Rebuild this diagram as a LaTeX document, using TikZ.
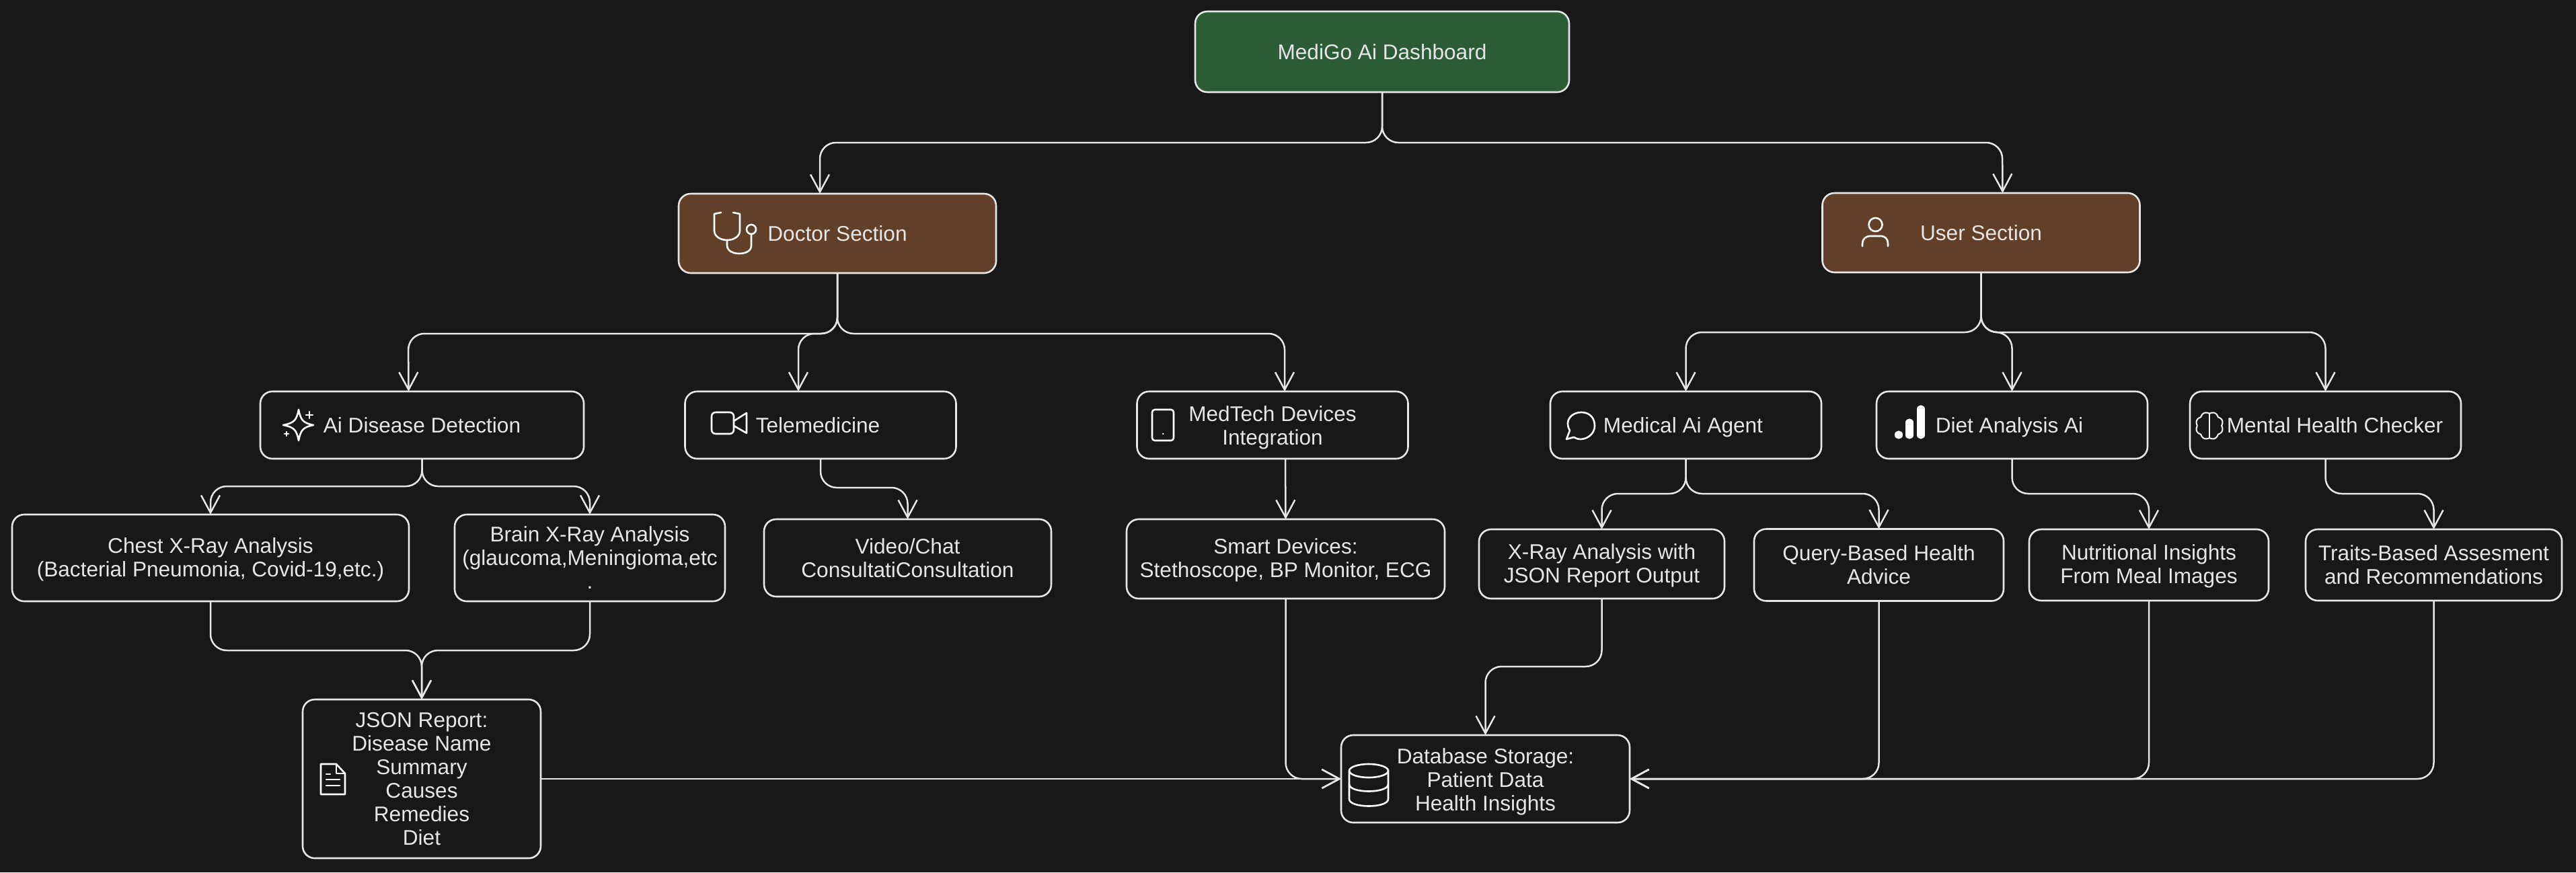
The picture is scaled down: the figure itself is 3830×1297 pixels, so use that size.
\documentclass[tikz,border=0pt]{standalone}
\usepackage{fontspec}
\setmainfont{Liberation Sans}
\usetikzlibrary{arrows.meta}
\definecolor{canvas}{HTML}{181818}
\definecolor{ink}{HTML}{E6E6E6}
\definecolor{greenfill}{HTML}{2B5C36}
\definecolor{brownfill}{HTML}{623F28}
\newcommand{\lift}[1]{\rule{0pt}{#1}}
\tikzset{
  box/.style={draw=ink,line width=1.3pt,rounded corners=9pt,align=center,inner sep=0pt,outer sep=0pt,
    text=ink,font=\fontsize{15.8}{17.5}\selectfont},
  oneline/.style={text height=15pt,text depth=3.3pt},
  mainbox/.style={box,oneline,fill=greenfill,minimum width=278pt,minimum height=60pt},
  sectionbox/.style={box,oneline,fill=brownfill,minimum width=236pt,minimum height=59pt},
  featurebox/.style={box,minimum width=201.5pt,minimum height=50pt},
  link/.style={draw=ink,line width=1.25pt,rounded corners=12pt,-{Straight Barb[length=13pt,width=14pt]}},
  icon/.style={draw=white,line width=1.3pt,line cap=round,line join=round}
}
\begin{document}
\begin{tikzpicture}[x=.5pt,y=.5pt]
\path[use as bounding box,fill=canvas] (0,0) rectangle (3830,-1297);

\draw (2055,-77) node[mainbox] (Main) {MediGo Ai Dashboard};
\draw (1245,-347) node[sectionbox] (Doctor) {Doctor Section};
\draw (2945.5,-346) node[sectionbox] (User) {User Section};

\draw (627.5,-632) node[featurebox,oneline,minimum width=240.5pt] (AiDetect) {Ai Disease Detection};
\draw (1220,-632) node[featurebox,oneline] (Tele) {Telemedicine\hspace*{4pt}};
\draw (1892,-632) node[featurebox] (MedTech) {\lift{15pt}MedTech Devices\\Integration};
\draw (2506.5,-632) node[featurebox,oneline] (Agent) {Medical Ai Agent\hspace*{4pt}};
\draw (2991.5,-632) node[featurebox,oneline] (Diet) {Diet Analysis Ai\hspace*{4pt}};
\draw (3457.5,-632) node[featurebox,oneline] (Mental) {\hspace*{14pt}Mental Health Checker};

\draw (313,-829.5) node[box,minimum width=295pt,minimum height=64.5pt] (Chest) {\lift{13.5pt}Chest X-Ray Analysis\\(Bacterial Pneumonia, Covid-19,etc.)};
\draw (877,-829.5) node[box,minimum width=201pt,minimum height=64.5pt] (Brain) {Brain X-Ray Analysis\\(glaucoma,Meningioma,etc\\.};
\draw (1349.5,-829.5) node[box,minimum width=213.5pt,minimum height=57.5pt] (Video) {Video/Chat\\ConsultatiConsultation};
\draw (1911.5,-831) node[box,minimum width=236.5pt,minimum height=59pt] (Smart) {\lift{13.5pt}Smart Devices:\\Stethoscope, BP Monitor, ECG};
\draw (2381.5,-838.5) node[box,minimum width=182.5pt,minimum height=51.5pt] (XRay) {\lift{13.5pt}X-Ray Analysis with\\JSON Report Output};
\draw (2793.5,-840) node[box,minimum width=185.5pt,minimum height=53.5pt] (Query) {Query-Based Health\\Advice};
\draw (3195,-840) node[box,minimum width=178pt,minimum height=53pt] (Nutrition) {\lift{13.5pt}Nutritional Insights\\From Meal Images};
\draw (3618.5,-840) node[box,minimum width=190.5pt,minimum height=53pt] (Traits) {Traits-Based Assesment\\and Recommendations};

\draw (627,-1158) node[box,minimum width=177pt,minimum height=118pt] (Report) {JSON Report:\\Disease Name\\Summary\\Causes\hspace*{5pt}\\Remedies\\Diet};
\draw (2208.5,-1158) node[box,minimum width=214.5pt,minimum height=65pt] (Storage) {\lift{16pt}Database Storage:\\Patient Data\\Health Insights};

\draw[link] (Main.south) -- (2055,-212) -- (1219,-212) -- ([xshift=-13pt]Doctor.north);
\draw[link] (Main.south) -- (2055,-212) -- (2977,-212) -- ([xshift=16pt]User.north);

\draw[link] (Doctor.south) -- (1245,-496) -- (607,-496) -- ([xshift=-10pt]AiDetect.north);
\draw[link] (Doctor.south) -- (1245,-496) -- (1187,-496) -- ([xshift=-16.5pt]Tele.north);
\draw[link] (Doctor.south) -- (1245,-496) -- (1910,-496) -- ([xshift=9pt]MedTech.north);

\draw[link] (User.south) -- (2945.5,-494) -- (2506.5,-494) -- (Agent.north);
\draw[link] (User.south) -- (2945.5,-494) -- (2991.5,-494) -- (Diet.north);
\draw[link] (User.south) -- (2945.5,-494) -- (3457.5,-494) -- (Mental.north);

\draw[link] (AiDetect.south) -- (627.5,-723) -- (313,-723) -- (Chest.north);
\draw[link] (AiDetect.south) -- (627.5,-723) -- (877,-723) -- (Brain.north);
\draw[link] (Tele.south) -- (1220,-725) -- (1349.5,-725) -- (Video.north);
\draw[link] ([xshift=9.5pt]MedTech.south) -- (Smart.north);
\draw[link] (Agent.south) -- (2506.5,-734) -- (2381.5,-734) -- (XRay.north);
\draw[link] (Agent.south) -- (2506.5,-734) -- (2793.5,-734) -- (Query.north);
\draw[link] (Diet.south) -- (2991.5,-734) -- (3195,-734) -- (Nutrition.north);
\draw[link] (Mental.south) -- (3457.5,-734) -- (3618.5,-734) -- (Traits.north);

\draw[link] (Chest.south) -- (313,-967) -- (627,-967) -- (Report.north);
\draw[link] (Brain.south) -- (877,-967) -- (627,-967) -- (Report.north);
\draw[link] (Report.east) -- (Storage.west);
\draw[link] (Smart.south) -- (1911.5,-1158) -- (Storage.west);
\draw[link] (XRay.south) -- (2381.5,-991) -- (2208.5,-991) -- (Storage.north);
\draw[link] (Query.south) -- (2793.5,-1158) -- (Storage.east);
\draw[link] (Nutrition.south) -- (3195,-1158) -- (Storage.east);
\draw[link] (Traits.south) -- (3618.5,-1158) -- (Storage.east);

\draw[icon] (1072,-316) -- (1062,-318) -- (1062,-343) .. controls (1062,-352) and (1072,-357) .. (1081,-357)
  .. controls (1090,-357) and (1100,-352) .. (1100,-343) -- (1100,-318) -- (1090,-316);
\draw[icon] (1081,-357) -- (1081,-365) .. controls (1081,-373) and (1090,-377) .. (1099,-377)
  .. controls (1109,-377) and (1117,-373) .. (1117,-365) -- (1117,-348);
\draw[icon] (1117,-341) circle (7);

\draw[icon] (2788.5,-334) circle (10);
\draw[icon] (2769,-366) -- (2769,-362) .. controls (2769,-355) and (2775,-351) .. (2780,-351) -- (2797,-351)
  .. controls (2802,-351) and (2807,-355) .. (2807,-362) -- (2807,-366);

\draw[icon] (444,-609) .. controls (447,-625) and (451,-629) .. (466,-632)
  .. controls (451,-635) and (447,-639) .. (444,-655)
  .. controls (441,-639) and (437,-635) .. (421,-632)
  .. controls (437,-629) and (441,-625) .. (444,-609) -- cycle;
\draw[icon] (455,-617) -- (465,-617) (460,-612) -- (460,-622);
\draw[icon] (423,-645) -- (429,-645) (426,-642) -- (426,-648);

\draw[icon,rounded corners=3pt] (1058,-613) rectangle (1091,-645);
\draw[icon] (1091,-626) -- (1110,-614) -- (1110,-644) -- (1091,-633);

\draw[icon,rounded corners=2pt] (1713,-609) rectangle (1745,-655);
\draw[icon] (1729,-645) -- (1729.5,-645);

\draw[icon] (2329,-653) -- (2334,-640) .. controls (2325,-625) and (2337,-613) .. (2351,-613)
  .. controls (2364,-613) and (2371,-622) .. (2371,-633) .. controls (2371,-645) and (2360,-653) .. (2350,-653)
  .. controls (2345,-653) and (2342,-651) .. (2340,-650) -- cycle;

\draw[white,line width=5.6pt,line cap=round] (2823,-646) -- (2823,-647);
\draw[white,line width=5.6pt,line cap=round] (2839,-628) -- (2839,-647);
\draw[white,line width=5.6pt,line cap=round] (2856,-608) -- (2856,-647);

\draw[icon,line width=1pt] plot[domain=0:360,samples=90,smooth]
  ({3285+(18+2.5*abs(sin(4*\x)))*cos(\x)},{-633+(18+2.5*abs(sin(4*\x)))*sin(\x)});
\draw[icon,line width=1pt] (3285,-615) -- (3285,-651);

\draw[icon] (477,-1181) -- (477,-1136) -- (500,-1136) -- (513,-1150) -- (513,-1181) -- cycle;
\draw[icon] (500,-1136) -- (500,-1150) -- (513,-1150);
\draw[icon] (485,-1151) -- (491,-1151) (485,-1159) -- (505,-1159) (485,-1168) -- (505,-1168);

\draw[icon] (2035,-1146) ellipse (29 and 10);
\draw[icon] (2006,-1146) -- (2006,-1188) .. controls (2006,-1202) and (2064,-1202) .. (2064,-1188) -- (2064,-1146);
\draw[icon] (2006,-1166) .. controls (2006,-1180) and (2064,-1180) .. (2064,-1166);
\end{tikzpicture}
\end{document}
